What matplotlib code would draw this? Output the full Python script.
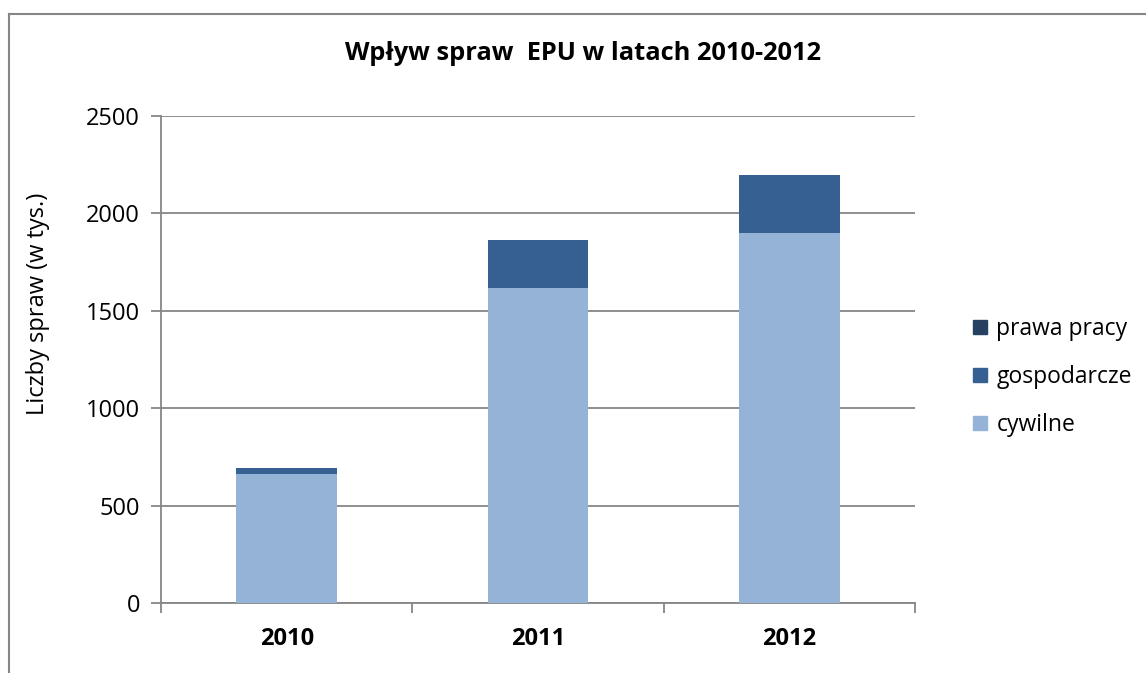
import numpy as np
import matplotlib
matplotlib.use('Agg')
import matplotlib.pyplot as plt
from matplotlib.lines import Line2D
from matplotlib.patches import Patch

# data (w tys.)
years = ['2010', '2011', '2012']
cywilne = [662, 1617, 1901]
gospodarcze = [32, 245, 295]
prawa_pracy = [1, 1, 1]

c_cyw = '#95B3D7'
c_gos = '#376092'
c_pp = '#254061'
grey = '#868686'

plt.rcParams['font.family'] = ['Open Sans', 'DejaVu Sans']

fig = plt.figure(figsize=(11.46, 6.73), dpi=100)
ax = fig.add_axes([161/1146, 1-603/673, (915-161)/1146, (603-116)/673])

x = np.arange(len(years))
w = 0.4
ax.bar(x, cywilne, w, color=c_cyw, zorder=3)
ax.bar(x, gospodarcze, w, bottom=cywilne, color=c_gos, zorder=3)
bot2 = [a + b for a, b in zip(cywilne, gospodarcze)]
ax.bar(x, prawa_pracy, w, bottom=bot2, color=c_pp, zorder=3)

ax.set_xlim(-0.5, 2.5)
ax.set_ylim(0, 2500)
ax.set_yticks(np.arange(0, 2501, 500))
ax.yaxis.grid(True, color=grey, linewidth=1.3, zorder=0)
ax.set_axisbelow(True)

for s in ['top', 'right']:
    ax.spines[s].set_visible(False)
for s in ['left', 'bottom']:
    ax.spines[s].set_color(grey)
    ax.spines[s].set_linewidth(1.3)

ax.set_xticks(x)
ax.set_xticklabels(years, fontsize=17, fontweight='bold')
ax.tick_params(axis='x', length=0, pad=17)
ax.set_xticks([0.5, 1.5, 2.5, -0.5], minor=True)
ax.tick_params(axis='x', which='minor', length=7, color=grey, width=1.3, direction='out')
ax.tick_params(axis='y', length=7, color=grey, width=1.3, labelsize=17, pad=8)

fig.text(38/1146, 1-304/673, 'Liczby spraw (w tys.)', rotation=90,
         ha='center', va='center', fontsize=17)

fig.text(583/1146, 1-53/673, 'Wpływ spraw  EPU w latach 2010-2012',
         ha='center', va='center', fontsize=18.3, fontweight='bold')

handles = [Patch(color=c_pp), Patch(color=c_gos), Patch(color=c_cyw)]
labels = ['prawa pracy', 'gospodarcze', 'cywilne']
fig.legend(handles, labels, loc='center left', bbox_to_anchor=(962/1146, 1-377/673),
           frameon=False, fontsize=16.5, handlelength=0.6, handleheight=0.6,
           handletextpad=0.4, labelspacing=1.05, borderpad=0)

# outer chart border (left and top only visible)
fig.add_artist(Line2D([9/1146, 9/1146], [0, 1-14/673], color=grey, linewidth=1.5))
fig.add_artist(Line2D([9/1146, 1], [1-14/673, 1-14/673], color=grey, linewidth=1.5))

fig.savefig('out.png', dpi=100)
